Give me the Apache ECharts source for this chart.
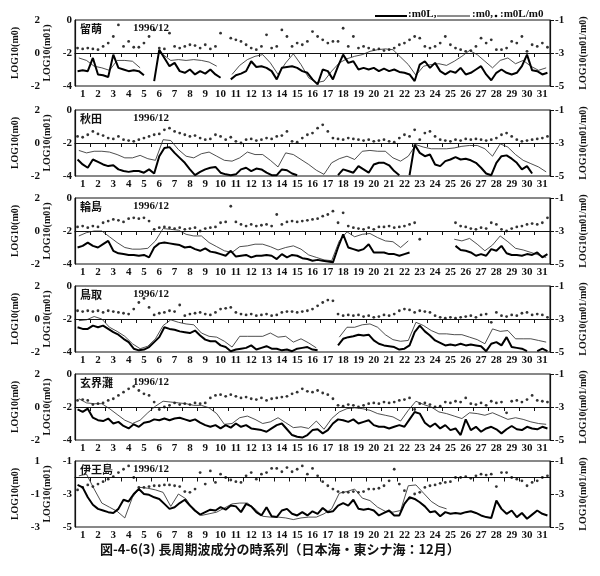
<!DOCTYPE html>
<html>
<head>
<meta charset="utf-8">
<script src="https://cdn.jsdelivr.net/npm/echarts@6/dist/echarts.min.js"></script>
<style>html,body{margin:0;background:#fff}#main{width:600px;height:576px}</style>
</head>
<body>
<div id="main"></div>
<script>
// 日ラベル
var dayLabels = ['1','2','3','4','5','6','7','8','9','10','11','12','13','14','15','16',
  '17','18','19','20','21','22','23','24','25','26','27','28','29','30','31'];
var stations = ['留萌', '秋田', '輪島', '鳥取', '玄界灘', '伊王島'];
// 軸範囲 [外側 m0, 内側 m01, 右 m01/m0]
var outerRange = [[-2, 2], [-2, 2], [-2, 2], [-2, 2], [-2, 2], [-3, 1]];
var innerRange = [[-4, 0], [-4, 0], [-4, 0], [-4, 0], [-4, 0], [-5, -1]];
var rightRange = [[-5, -1], [-5, -1], [-5, -1], [-5, -1], [-5, -1], [-5, -1]];

// m0 (細線) 12時間毎
var m0_1 = [-0.3,-0.45,-0.8,-0.9,-1.05,-0.45,-0.45,-0.5,-0.9,null,
  null,-0.1,-0.45,-0.4,-0.45,-0.4,-0.45,-0.55,-0.8,null,
  -1.3,-0.75,-0.4,-0.2,-0.1,-0.6,-1.3,-0.6,-0.05,-0.7,
  -1.5,-1.8,-1.7,-1.1,-0.6,-0.35,-0.2,-0.1,0.1,0.2,
  0.25,0.2,-0.25,-0.7,-1.35,-0.8,-0.7,-0.65,-0.75,-0.5,
  -0.2,0.15,-0.1,-0.5,-0.9,-0.45,-0.3,-0.65,-0.45,-0.8,
  -1.05,-0.9];
var m0_2 = [-0.45,-0.6,-0.5,-0.5,-0.55,-0.7,-0.9,-0.9,-0.75,-0.95,
  -1.05,0.2,0.15,-0.4,-0.8,-0.9,-0.65,-0.55,-0.8,-1.05,
  -1.1,-0.9,-0.55,-0.7,-0.7,-1.05,-1.45,-0.6,-0.7,-1.0,
  -1.3,-1.65,-1.9,-1.2,-0.95,-0.8,-1.0,-0.5,-0.45,-0.5,
  -0.5,-0.9,-1.1,-0.8,-0.1,-0.25,-0.35,-0.35,-0.35,-0.3,
  -0.2,-0.15,-0.15,-0.35,-0.8,-0.05,-0.25,-0.7,-1.05,-1.25,
  -1.45,-1.75];
var m0_3 = [-0.3,-0.1,0.0,0.0,-0.35,-0.7,-1.0,-1.1,-1.1,-1.05,
  -0.6,0.15,0.1,0.05,-0.2,-0.3,-0.3,-0.7,-0.95,-1.2,
  -1.3,-0.95,-0.9,-0.8,-0.8,-0.95,-1.15,-1.0,-0.9,-1.1,
  -1.45,-1.6,-1.75,-1.8,-0.6,-0.05,-0.35,-0.2,-0.15,-0.4,
  -0.6,-0.65,-1.0,-0.6,null,null,null,null,null,-0.5,
  -0.6,-0.45,-0.8,-1.2,-0.85,-0.3,-0.65,-1.05,-1.15,-1.3,
  -1.45,-1.6];
var m0_4 = [-0.1,-0.05,0.15,0.0,-0.5,-0.75,-1.05,-1.5,-1.8,-1.65,
  -1.2,-0.4,-0.05,-0.2,-0.3,-0.35,-0.85,-1.05,-1.1,-1.35,
  -1.7,-1.05,-1.05,-1.05,-1.05,-0.85,-1.1,-1.05,-1.4,-1.2,
  -1.45,-1.75,null,null,-1.1,-0.5,-0.5,-0.35,-0.3,-0.5,
  -0.95,-1.25,-1.35,-1.3,-0.2,-0.4,-0.7,-0.9,-0.9,-0.95,
  -0.95,-1.1,-1.25,-1.5,-0.6,-0.75,-0.7,-1.2,-1.2,-1.2,
  -1.3,-1.4];
var m0_5 = [0.5,0.25,0.2,0.2,-0.1,-0.45,-0.8,-1.0,-0.8,-0.35,
  0.05,0.35,0.3,0.25,0.2,0.1,0.1,-0.05,-0.4,-1.05,
  -1.0,-0.65,-0.55,-0.75,-1.0,-0.9,-0.65,-0.95,-1.25,-1.2,
  -1.3,-0.85,-1.35,-0.7,-0.3,-0.1,-0.05,-0.1,-0.2,-0.4,
  -0.5,-0.6,-0.85,-0.2,0.35,0.15,0.0,-0.3,-0.4,-0.55,
  -0.7,-0.35,-0.4,-0.5,-0.35,-0.55,-0.75,-0.65,-0.75,-0.9,
  -1.0,-1.05];
var m0_6 = [0.1,0.2,-0.7,-1.55,-1.8,-2.05,-2.45,-1.2,-0.6,-0.65,
  -0.75,-0.9,-1.75,-1.0,-1.3,-2.0,-2.3,-2.2,-2.1,-1.85,
  -1.6,-1.55,-1.55,-1.9,-2.35,-2.4,-2.4,-2.45,-2.55,-2.45,
  -2.4,-2.4,-2.2,-1.9,-0.95,-0.85,-0.7,-1.25,-1.4,-1.8,
  -2.05,-2.1,-2.0,-0.5,-0.45,-0.95,-1.45,-1.75,-1.9,null,
  null,null,null,null,null,null,null,null,null,null,
  null,null];

// m0L (太線) 8時間毎、1行1日
var m0L_1 = [-3.1,-3.05,-3.1, -2.3,-3.3,-3.35, -3.45,-2.1,-2.9, -3.0,-3.1,-3.05,
  -3.1,-3.35,null, -3.7,-1.8,-2.3, -2.8,-2.6,-3.1, -3.2,-3.0,-3.3,
  -3.1,-3.25,-3.0, -3.3,-3.5,null, -3.6,-3.35,-3.25, -3.1,-2.5,-2.85,
  -2.8,-2.9,-3.1, -3.6,-2.9,-2.85, -2.8,-2.9,-3.1, -3.2,-3.6,-3.9,
  -3.0,-3.1,-3.6, -2.8,-2.1,-2.6, -2.5,-3.0,-2.9, -3.0,-2.9,-3.1,
  -2.95,-3.1,-3.0, -3.15,-3.2,-3.3, -3.7,-2.7,-2.5, -2.9,-2.6,-3.1,
  -3.3,-3.1,-3.2, -2.9,-3.3,-3.2, -3.0,-2.8,-3.3, -3.65,-3.2,-3.0,
  -3.2,-3.3,-3.2, -2.8,-2.1,-3.05, -3.1,-3.3,-3.2];
var m0L_2 = [-3.0,-3.3,-3.5, -3.0,-3.15,-3.3, -3.4,-3.35,-3.6, -3.7,-3.75,-3.7,
  -3.7,-3.8,-3.6, -3.85,-2.8,-2.3, -2.25,-2.6,-2.9, -3.2,-3.6,-3.95,
  -3.75,-3.6,-3.5, -3.45,-3.8,-3.9, -3.95,-3.9,-3.6, -3.5,-3.7,-3.55,
  -3.6,-3.8,-3.95, -3.95,-3.6,-3.65, -3.85,-3.95,null, null,null,null,
  null,null,null, -3.95,-3.6,-3.7, -3.8,-3.4,-3.6, -3.8,-3.3,-3.2,
  -3.2,-3.35,-3.7, -3.95,null,-3.95, -2.1,-2.6,-2.8, -2.7,-3.3,-3.4,
  -3.1,-3.0,-2.85, -3.0,-2.95,-3.05, -3.2,-3.5,-3.85, -3.95,-3.2,-2.8,
  -2.75,-2.95,-3.2, -3.6,-3.4,-3.85, null,null,null];
var m0L_3 = [-3.0,-2.9,-2.7, -2.9,-3.0,-2.8, -2.6,-3.2,-3.35, -3.4,-3.45,-3.45,
  -3.5,-3.45,-3.6, -3.0,-2.75,-2.7, -2.75,-2.8,-2.85, -3.0,-2.95,-3.1,
  -3.2,-3.05,-3.25, -3.3,-3.4,-3.5, -3.2,-3.55,-3.5, -3.45,-3.6,-3.5,
  -3.5,-3.45,-3.5, -3.7,-3.4,-3.6, -3.45,-3.5,-3.65, -3.7,-3.8,-3.75,
  -3.8,-3.85,-3.9, -3.0,-2.2,-3.0, -3.1,-3.2,-3.1, -2.8,-3.3,-3.3,
  -3.3,-3.4,-3.4, -3.5,-3.4,-3.3, null,null,null, null,null,null,
  null,null,-2.9, -3.15,-3.2,-3.3, -3.5,-3.4,-3.5, -3.1,-3.2,-2.9,
  -3.35,-3.45,-3.45, -3.5,-3.4,-3.45, -3.3,-3.6,-3.4];
var m0L_4 = [-2.5,-2.6,-2.6, -2.4,-2.5,-2.4, -2.6,-2.8,-2.95, -3.2,-3.4,-3.8,
  -3.9,-3.85,-3.7, -3.4,-3.1,-2.5, -2.6,-2.65,-2.75, -2.8,-2.85,-2.7,
  -3.0,-3.25,-3.35, -3.35,-3.6,-3.7, -3.95,-3.85,-3.8, -3.75,-3.6,-3.85,
  -3.75,-3.65,-3.8, -3.8,-3.9,-3.85, -3.95,-3.8,-3.75, -3.7,-3.85,-3.9,
  null,null,null, -3.6,-3.2,-3.1, -3.05,-2.95,-3.0, -2.95,-3.3,-3.5,
  -3.6,-3.65,-3.7, -3.85,-3.8,-3.6, -2.8,-2.4,-2.75, -3.0,-3.3,-3.45,
  -3.6,-3.55,-3.6, -3.5,-3.6,-3.55, -3.6,-3.65,-3.95, -3.5,-3.4,-3.6,
  -3.1,-3.7,-3.75, -3.8,-3.95,null, -3.95,-3.8,-3.95];
var m0L_5 = [-2.15,-2.3,-2.1, -2.65,-2.8,-2.85, -2.7,-3.0,-2.9, -3.15,-3.3,-3.05,
  -3.2,-2.95,-2.9, -2.75,-2.8,-2.7, -2.8,-2.7,-2.65, -2.75,-2.85,-2.75,
  -2.95,-3.1,-3.2, -3.1,-3.3,-3.1, -3.25,-3.0,-3.2, -3.1,-3.3,-3.35,
  -3.4,-3.5,-3.3, -3.1,-3.0,-3.35, -3.7,-3.8,-3.85, -3.7,-3.4,-3.35,
  -3.6,-3.4,-3.0, -2.75,-2.8,-2.9, -2.75,-3.0,-2.9, -2.8,-3.1,-3.2,
  -3.2,-3.3,-3.2, -3.1,-3.2,-2.75, -2.3,-2.4,-2.95, -3.2,-3.0,-3.3,
  -3.1,-3.4,-3.3, -3.7,-2.75,-3.4, -3.2,-3.5,-3.3, -3.2,-3.35,-3.6,
  -3.35,-3.15,-3.35, -3.4,-3.2,-3.3, -3.35,-3.2,-3.3];
var m0L_6 = [-2.45,-2.6,-3.2, -3.65,-3.9,-4.0, -4.1,-4.15,-3.9, -3.35,-3.45,-3.0,
  -2.7,-3.0,-3.05, -3.2,-3.3,-3.6, -3.9,-3.8,-3.55, -3.35,-3.7,-4.0,
  -4.25,-4.1,-3.95, -4.0,-3.8,-3.95, -3.7,-3.75,-4.1, -3.6,-3.75,-4.1,
  -4.3,-3.8,-4.35, -4.4,-4.0,-3.9, -4.2,-4.3,-4.1, -4.3,-4.05,-4.2,
  -3.85,-4.1,-4.05, -3.7,-3.55,-3.7, -3.35,-3.9,-3.95, -3.9,-4.0,-4.3,
  -4.15,-4.0,-4.3, -4.3,-3.6,-3.2, -3.3,-3.5,-3.75, -4.1,-4.05,-4.35,
  -4.1,-4.2,-4.15, -4.2,-4.1,-4.05, -4.15,-4.3,-4.4, -4.45,-3.4,-3.9,
  -4.2,-4.0,-4.4, -4.15,-4.5,-4.25, -4.0,-4.2,-4.3];

// m0L/m0 (点) 8時間毎
var ratio_1 = [-2.7,-2.75,-2.7, -2.75,-2.8,-2.6, -2.4,-2.0,-1.3, -2.6,-2.3,-2.65,
  -2.65,-2.4,-2.0, -1.6,-2.7,-2.75, -1.8,-2.6,-2.7, -2.6,-2.5,-2.55,
  -2.7,-2.5,-2.75, -2.6,-1.8,null, -2.1,-2.2,-2.3, -2.5,-2.7,-2.8,
  -2.6,-1.9,-2.7, -2.6,-1.6,-2.0, -2.6,-2.4,-2.5, -2.3,-1.7,-2.0,
  -2.2,-2.4,-2.3, -2.3,-1.5,-2.6, -2.0,-2.7,-2.6, -2.7,-2.8,-2.75,
  -2.85,-2.8,-2.7, -2.5,-2.4,-2.2, -2.0,-2.1,-2.6, -2.7,-2.6,-2.4,
  -2.0,-2.5,-2.7, -2.8,-2.9,-2.85, -2.6,-2.1,-2.4, -2.2,-2.8,-2.8,
  -2.7,-2.3,-2.4, -2.0,-2.9,-2.5, -2.6,-2.4,-2.65];
var ratio_2 = [-2.6,-2.65,-2.5, -2.3,-2.45,-2.55, -2.7,-2.75,-2.6, -2.8,-2.85,-2.9,
  -2.8,-2.7,-2.6, -2.5,-2.45,-2.2, -2.1,-2.3,-2.4, -2.5,-2.6,-2.55,
  -2.7,-2.8,-2.75, -2.5,-2.6,-2.8, -2.65,-2.9,-3.0, -2.8,-2.75,-2.85,
  -2.8,-2.7,-2.75, -2.6,-2.55,-2.3, -2.9,-2.95,-2.7, -2.5,-2.4,-2.1,
  -1.9,-2.3,-2.7, -2.75,-2.8,-2.7, -2.75,-2.8,-2.85, -2.8,-2.9,-2.85,
  -2.8,-2.9,-2.95, -2.7,-2.5,-2.6, -2.2,-2.8,-2.4, -2.3,-2.6,-2.8,
  -2.85,-2.9,-2.8, -2.85,-2.75,-2.8, -2.75,-2.8,-2.85, -2.8,-2.7,-2.5,
  -2.4,-2.6,-2.8, -2.9,-2.85,-2.8, -2.75,-2.7,-2.6];
var ratio_3 = [-2.75,-2.7,-2.8, -2.7,-2.75,-2.5, -2.4,-2.3,-2.35, -2.45,-2.25,-2.2,
  -2.25,-2.2,-2.4, -2.9,-2.8,-2.75, -2.8,-2.85,-2.8, -2.9,-2.85,-2.8,
  -3.0,-2.85,-2.8, -2.75,-2.5,-2.45, -1.5,-2.45,-2.6, -2.7,-2.6,-2.7,
  -2.65,-2.6,-2.7, -2.0,-2.6,-2.45, -2.4,-2.45,-2.4, -2.35,-2.3,-2.25,
  -2.1,-2.0,-1.8, -2.5,-1.9,-2.7, -2.8,-2.85,-2.9, -2.8,-2.9,-2.75,
  -2.75,-2.7,-2.8, -2.75,-2.7,-2.6, -2.5,-3.5,null, null,null,null,
  null,null,-2.5, -2.7,-2.75,-2.85, -2.9,-2.8,-2.85, -2.5,-2.6,-2.9,
  -3.0,-2.85,-2.75, -2.7,-2.6,-2.55, -2.6,-2.5,-2.2];
var ratio_4 = [-2.5,-2.55,-2.5, -2.55,-2.5,-2.6, -2.5,-2.55,-2.6, -2.65,-2.7,-2.4,
  -2.0,-1.75,-2.3, -2.75,-2.65,-2.6, -2.5,-2.55,-2.15, -2.8,-2.7,-2.65,
  -2.6,-2.7,-2.75, -2.6,-2.4,-2.35, -2.3,-2.6,-2.7, -2.75,-2.7,-2.8,
  -2.75,-2.7,-2.8, -2.75,-2.6,-2.55, -2.55,-2.6,-2.55, -2.5,-2.4,-2.2,
  -2.0,-1.85,-1.9, -2.7,-2.8,-2.75, -2.8,-2.75,-2.85, -2.8,-2.9,-2.85,
  -2.75,-2.8,-2.7, -2.5,-2.4,-2.45, -2.6,-2.5,-2.55, -2.6,-2.8,-2.9,
  -2.95,-2.9,-2.95, -2.9,-2.85,-2.8, -2.9,-2.75,-2.7, -3.2,-2.6,-2.8,
  -2.85,-2.75,-2.8, -2.65,-2.6,-2.75, -2.7,-2.75,-2.9];
var ratio_5 = [-2.6,-2.55,-2.6, -2.85,-2.8,-2.75, -2.6,-2.5,-2.3, -2.1,-1.9,-1.75,
  -2.0,-2.2,-2.3, -2.7,-3.15,-3.0, -2.9,-2.75,-2.85, -2.8,-2.85,-2.75,
  -2.8,-2.75,-2.45, -2.3,-2.25,-2.35, -2.25,-2.35,-2.45, -2.4,-2.5,-2.55,
  -2.45,-2.6,-2.5, -2.45,-2.4,-2.35, -2.2,-2.1,-1.9, -2.05,-2.1,-2.0,
  -2.15,-2.25,-2.5, -2.9,-2.95,-2.85, -2.9,-3.0,-2.9, -2.8,-2.75,-2.8,
  -2.7,-2.75,-2.7, -2.6,-2.55,-2.45, -3.15,-2.8,-2.75, -2.85,-3.0,-2.95,
  -2.7,-2.75,-2.65, -2.7,-2.45,-2.8, -2.85,-2.75,-2.9, -2.65,-2.75,-2.7,
  -3.35,-2.65,-2.6, -2.7,-2.55,-2.3, -2.6,-2.65,-2.7];
var ratio_6 = [-2.75,-2.6,-2.45, -2.55,-2.4,-2.25, -2.1,-1.95,-1.7, -1.5,-1.3,-2.0,
  -2.6,-2.6,-2.55, -2.5,-2.5,-2.45, -2.45,-2.5,-2.55, -2.85,-2.9,-2.7,
  -1.7,-2.4,-1.6, -2.3,-1.8,-2.0, -2.15,-2.25,-2.3, -1.9,-1.7,-2.1,
  -1.8,-1.7,-1.45, -1.45,-1.65,-1.4, -1.65,-1.5,-1.3, -1.8,-1.45,-1.9,
  -2.25,-2.5,-2.7, -2.85,-2.9,-2.9, -2.85,-2.9,-2.85, -2.7,-2.7,-2.65,
  -2.5,-2.2,-1.5, -2.4,-2.8,-3.25, -3.0,-2.9,-2.6, -2.5,-2.45,-2.35,
  -2.3,-2.25,-2.0, -2.0,-1.95,-2.05, -1.9,-1.8,-1.85, -1.8,-2.55,-1.7,
  -1.7,-2.0,-2.1, -2.2,-2.5,-2.3, -2.2,-2.0,-1.9];

var m0All = [m0_1, m0_2, m0_3, m0_4, m0_5, m0_6];
var m0LAll = [m0L_1, m0L_2, m0L_3, m0L_4, m0L_5, m0L_6];
var ratioAll = [ratio_1, ratio_2, ratio_3, ratio_4, ratio_5, ratio_6];

var tops = [20, 110, 198, 286, 374, 461];
var H = 66;
var serif = 'Liberation Serif';
var ink = '#111';

function pairs(arr, start, step) {
    return arr.map(function (v, i) { return [start + step * i, v]; });
}

var grids = [], xAxes = [], yAxes = [], series = [], graphics = [];
for (var p = 0; p < 6; p++) {
    grids.push({left: 75, right: 50, top: tops[p], height: H, show: true,
        borderColor: ink, borderWidth: 1});
    xAxes.push({
        type: 'category', gridIndex: p, data: dayLabels, boundaryGap: true,
        axisLine: {lineStyle: {color: ink, width: 1.2}},
        axisTick: {show: true, length: 4, lineStyle: {color: ink}},
        axisLabel: {interval: 0, margin: 3, color: ink, fontFamily: serif, fontWeight: 'bold', fontSize: 11},
        splitLine: {show: false}
    });
    xAxes.push({type: 'value', gridIndex: p, min: 0, max: 31, show: false});
    var nameStyle = {fontFamily: serif, fontWeight: 'bold', fontSize: 10, color: ink};
    var labStyle = {color: ink, fontFamily: serif, fontWeight: 'bold', fontSize: 11};
    yAxes.push({
        type: 'value', gridIndex: p, position: 'left', offset: 33,
        min: outerRange[p][0], max: outerRange[p][1], interval: 2,
        name: 'LOG10(m0)', nameLocation: 'middle', nameGap: 20, nameRotate: 90, nameTextStyle: nameStyle,
        axisLine: {show: false}, axisTick: {show: false}, splitLine: {show: false},
        axisLabel: Object.assign({margin: 2}, labStyle)
    });
    yAxes.push({
        type: 'value', gridIndex: p, position: 'left', offset: 0,
        min: innerRange[p][0], max: innerRange[p][1], interval: 2,
        name: 'LOG10(m01)', nameLocation: 'middle', nameGap: 23, nameRotate: 90, nameTextStyle: nameStyle,
        axisLine: {show: true, lineStyle: {color: ink, width: 1.2}}, axisTick: {show: false}, splitLine: {show: false},
        axisLabel: Object.assign({margin: 3}, labStyle)
    });
    yAxes.push({
        type: 'value', gridIndex: p, position: 'right',
        min: rightRange[p][0], max: rightRange[p][1], interval: 2,
        name: 'LOG10(m01/m0)', nameLocation: 'middle', nameGap: 28, nameRotate: 90, nameTextStyle: nameStyle,
        axisLine: {show: true, lineStyle: {color: ink, width: 1.2}},
        axisTick: {show: true, length: 4, lineStyle: {color: ink}}, splitLine: {show: false},
        axisLabel: Object.assign({margin: 5}, labStyle)
    });
    series.push({
        type: 'line', xAxisIndex: 2 * p + 1, yAxisIndex: 3 * p,
        data: pairs(m0All[p], 0.25, 0.5), showSymbol: false, silent: true,
        lineStyle: {color: '#222', width: 0.8}
    });
    series.push({
        type: 'line', xAxisIndex: 2 * p + 1, yAxisIndex: 3 * p + 1,
        data: pairs(m0LAll[p], 1 / 6, 1 / 3), showSymbol: false, silent: true,
        lineStyle: {color: '#000', width: 2}
    });
    series.push({
        type: 'scatter', xAxisIndex: 2 * p + 1, yAxisIndex: 3 * p + 2,
        data: pairs(ratioAll[p], 1 / 6, 1 / 3).filter(function (d) { return d[1] !== null; }),
        symbolSize: 2.8, silent: true, itemStyle: {color: '#000'}
    });
    graphics.push({type: 'text', left: 80, top: tops[p] + 3,
        style: {text: stations[p], fill: ink, font: 'bold 11px "Noto Sans CJK JP"'}});
    graphics.push({type: 'text', left: 133, top: tops[p] + 3,
        style: {text: '1996/12', fill: ink, font: 'bold 11px "Liberation Serif"'}});
}

// 凡例
graphics.push({type: 'line', shape: {x1: 375, y1: 16, x2: 407, y2: 16}, style: {stroke: '#000', lineWidth: 2}});
graphics.push({type: 'text', left: 408, top: 9, style: {text: ':m0L,', fill: ink, font: 'bold 11px "Liberation Serif"'}});
graphics.push({type: 'line', shape: {x1: 437, y1: 16, x2: 470, y2: 16}, style: {stroke: '#000', lineWidth: 0.9}});
graphics.push({type: 'text', left: 472, top: 9, style: {text: ':m0,', fill: ink, font: 'bold 11px "Liberation Serif"'}});
graphics.push({type: 'circle', shape: {cx: 496, cy: 16, r: 1.3}, style: {fill: '#000'}});
graphics.push({type: 'text', left: 500, top: 9, style: {text: ':m0L/m0', fill: ink, font: 'bold 11px "Liberation Serif"'}});
// 図題
graphics.push({type: 'text', left: 100, top: 543,
    style: {text: '図-4-6(3) 長周期波成分の時系列（日本海・東シナ海：12月）', fill: ink, font: 'bold 13px "Noto Sans CJK JP"'}});

var chart = echarts.init(document.getElementById('main'));
chart.setOption({
    animation: false,
    backgroundColor: '#fff',
    grid: grids,
    xAxis: xAxes,
    yAxis: yAxes,
    series: series,
    graphic: graphics
});
</script>
</body>
</html>
